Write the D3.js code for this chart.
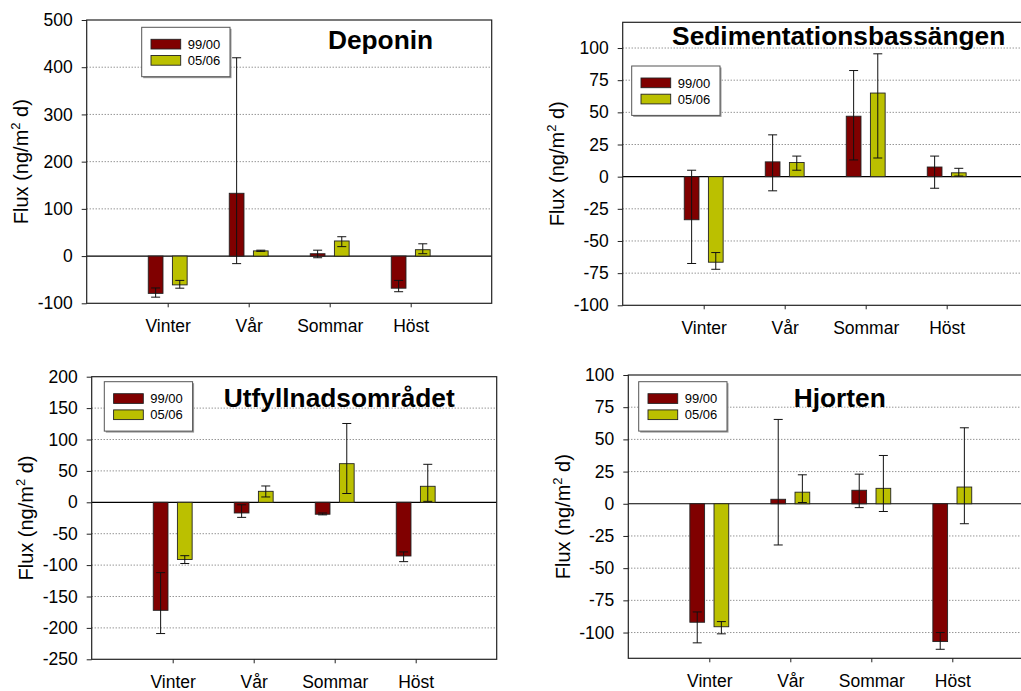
<!DOCTYPE html>
<html>
<head>
<meta charset="utf-8">
<script src="https://cdn.jsdelivr.net/npm/d3@7"></script>
<style>
  html, body { margin: 0; padding: 0; background: #fff; }
  svg { display: block; font-family: "Liberation Sans", Arial, sans-serif; }
</style>
</head>
<body>
<svg id="chart" width="1021" height="691"></svg>
<script>
// ---------- data ----------
const categories = ["Vinter", "Vår", "Sommar", "Höst"];
const seriesNames = ["99/00", "05/06"];
const yLabelMain = "Flux (ng/m";
const yLabelSup = "2";
const yLabelEnd = " d)";

// Deponin
const deponin9900 = [-79, 133, 5, -68];
const deponin9900Low = [-87, -16, -3.5, -75.5];
const deponin9900High = [-67.5, 420, 12.5, -51.5];
const deponin0506 = [-61, 11, 32, 13.5];
const deponin0506Low = [-68, 10, 20, 5];
const deponin0506High = [-51.5, 12.5, 41, 26];
const deponinTicks = [-100, 0, 100, 200, 300, 400, 500];

// Sedimentationsbassängen
const sed9900 = [-33.5, 11.5, 47, 7.5];
const sed9900Low = [-67.5, -11, 13, -9];
const sed9900High = [5, 32.5, 82.5, 16];
const sed0506 = [-66.5, 11, 65, 3];
const sed0506Low = [-72, 5, 14.5, 0.5];
const sed0506High = [-59, 16, 95.5, 6.5];
const sedTicks = [-100, -75, -50, -25, 0, 25, 50, 75, 100];

// Utfyllnadsområdet
const utf9900 = [-172, -17, -19, -85.5];
const utf9900Low = [-209, -24, -20, -94.5];
const utf9900High = [-112, -4, -17, -79];
const utf0506 = [-91, 17.5, 61.5, 25.5];
const utf0506Low = [-97.5, 8.5, 14, 1.5];
const utf0506High = [-85, 26, 125.5, 60.5];
const utfTicks = [-250, -200, -150, -100, -50, 0, 50, 100, 150, 200];

// Hjorten
const hjo9900 = [-92, 3.5, 10.5, -107];
const hjo9900Low = [-108, -32, -3, -113];
const hjo9900High = [-84, 65.5, 23, -100];
const hjo0506 = [-95.5, 9, 12, 13];
const hjo0506Low = [-101, 1, -6, -15.5];
const hjo0506High = [-91.5, 22.5, 37.5, 59];
const hjoTicks = [-100, -75, -50, -25, 0, 25, 50, 75, 100];

const colors = ["#800000", "#bbc000"];

// ---------- layout (positions & sizes only) ----------
const panels = [
  { title: "Deponin", x0: 86.7, x1: 491.7, y0: 20, y1: 303.3, dom: [-100, 500], ticks: deponinTicks,
    vals: [deponin9900, deponin0506], lo: [deponin9900Low, deponin0506Low], hi: [deponin9900High, deponin0506High],
    titleX: 380.5, titleY: 49.3, legX: 141.7, legY: 27.3 },
  { title: "Sedimentationsbassängen", x0: 622.7, x1: 1027.7, y0: 22.3, y1: 305.3, dom: [-100, 120], ticks: sedTicks,
    vals: [sed9900, sed0506], lo: [sed9900Low, sed0506Low], hi: [sed9900High, sed0506High],
    titleX: 838.7, titleY: 45, legX: 631.7, legY: 66 },
  { title: "Utfyllnadsområdet", x0: 91.7, x1: 496.7, y0: 376.7, y1: 659.3, dom: [-250, 200], ticks: utfTicks,
    vals: [utf9900, utf0506], lo: [utf9900Low, utf0506Low], hi: [utf9900High, utf0506High],
    titleX: 339.3, titleY: 407.3, legX: 104.3, legY: 381.7 },
  { title: "Hjorten", x0: 628.3, x1: 1033.3, y0: 375, y1: 658.3, dom: [-120, 100], ticks: hjoTicks,
    vals: [hjo9900, hjo0506], lo: [hjo9900Low, hjo0506Low], hi: [hjo9900High, hjo0506High],
    titleX: 839.7, titleY: 407.3, legX: 638.7, legY: 381.7 }
];

const svg = d3.select("#chart");
svg.append("rect").attr("width", 1021).attr("height", 691).attr("fill", "#fff");

panels.forEach(p => {
  const g = svg.append("g");
  const x = d3.scalePoint().domain(categories).range([p.x0, p.x1]).padding(1);
  const step = x.step();
  const xs = d3.scaleBand().domain(seriesNames).range([-0.24 * step, 0.24 * step]).paddingInner(0.39);
  const y = d3.scaleLinear().domain(p.dom).range([p.y1, p.y0]);

  // gridlines (dotted), interior only, not at zero
  const gridVals = p.ticks.filter(t => t !== 0 && t > p.dom[0] && t < p.dom[1]);
  g.selectAll("line.grid").data(gridVals).join("line")
    .attr("x1", p.x0).attr("x2", p.x1)
    .attr("y1", d => y(d)).attr("y2", d => y(d))
    .attr("stroke", "#666").attr("stroke-width", 1).attr("stroke-dasharray", "1,2");

  // zero line
  g.append("line").attr("x1", p.x0).attr("x2", p.x1)
    .attr("y1", y(0)).attr("y2", y(0)).attr("stroke", "#000").attr("stroke-width", 1.2);

  // bars
  seriesNames.forEach((s, si) => {
    const bw = xs.bandwidth();
    g.selectAll("rect.bar" + si).data(categories).join("rect")
      .attr("x", c => x(c) + xs(s))
      .attr("width", bw)
      .attr("y", (c, i) => y(Math.max(0, p.vals[si][i])))
      .attr("height", (c, i) => Math.abs(y(p.vals[si][i]) - y(0)))
      .attr("fill", colors[si])
      .attr("stroke", "#222").attr("stroke-width", 0.9);
  });

  // error bars
  seriesNames.forEach((s, si) => {
    const bw = xs.bandwidth();
    categories.forEach((c, i) => {
      const cx = x(c) + xs(s) + bw / 2;
      const lo = y(p.lo[si][i]), hi = y(p.hi[si][i]);
      g.append("line").attr("x1", cx).attr("x2", cx).attr("y1", lo).attr("y2", hi)
        .attr("stroke", "#111").attr("stroke-width", 1);
      [lo, hi].forEach(yy => {
        g.append("line").attr("x1", cx - 4.5).attr("x2", cx + 4.5).attr("y1", yy).attr("y2", yy)
          .attr("stroke", "#111").attr("stroke-width", 1);
      });
    });
  });

  // frame
  g.append("rect").attr("x", p.x0).attr("y", p.y0)
    .attr("width", p.x1 - p.x0).attr("height", p.y1 - p.y0)
    .attr("fill", "none").attr("stroke", "#222").attr("stroke-width", 1.2);

  // y axis
  const ya = g.append("g").attr("transform", `translate(${p.x0},0)`)
    .call(d3.axisLeft(y).tickValues(p.ticks).tickSize(5).tickPadding(9).tickFormat(d => String(d)));
  ya.select(".domain").remove();
  ya.selectAll("text").attr("font-size", "17.5px").attr("fill", "#000")
    .style("font-family", '"Liberation Sans", Arial, sans-serif');
  ya.selectAll("line").attr("stroke", "#222");

  // x axis
  const xa = g.append("g").attr("transform", `translate(0,${p.y1})`)
    .call(d3.axisBottom(x).tickSize(4).tickPadding(12.6));
  xa.select(".domain").remove();
  xa.selectAll("text").attr("font-size", "17.5px").attr("fill", "#000")
    .style("font-family", '"Liberation Sans", Arial, sans-serif');
  xa.selectAll("line").attr("stroke", "#222");

  // y-axis title
  const cy = (p.y0 + p.y1) / 2;
  const t = g.append("text")
    .attr("transform", `translate(${p.x0 - 58.5},${cy}) rotate(-90)`)
    .attr("text-anchor", "middle").attr("font-size", "20px").attr("fill", "#000");
  t.append("tspan").text(yLabelMain);
  t.append("tspan").attr("font-size", "13px").attr("dy", "-0.62em").text(yLabelSup);
  t.append("tspan").attr("dy", "0.4em").text(yLabelEnd);

  // panel title
  g.append("text").attr("x", p.titleX).attr("y", p.titleY)
    .attr("text-anchor", "middle").attr("font-size", "26.3px").attr("font-weight", "bold")
    .attr("fill", "#000").text(p.title);

  // legend
  const lg = g.append("g").attr("transform", `translate(${p.legX},${p.legY})`);
  lg.append("rect").attr("x", 1.5).attr("y", 1.5).attr("width", 88.3).attr("height", 49.4)
    .attr("fill", "#999");
  lg.append("rect").attr("width", 88.3).attr("height", 49.4)
    .attr("fill", "#fff").attr("stroke", "#555").attr("stroke-width", 1);
  seriesNames.forEach((s, si) => {
    lg.append("rect").attr("x", 9.3).attr("y", 12 + si * 16.2).attr("width", 29.7).attr("height", 9.7)
      .attr("fill", colors[si]).attr("stroke", "#222").attr("stroke-width", 0.9);
    lg.append("text").attr("x", 46).attr("y", 12 + si * 16.2 + 4.85).attr("dy", "0.36em")
      .attr("font-size", "13px").attr("fill", "#000").text(s);
  });
});
</script>
</body>
</html>
